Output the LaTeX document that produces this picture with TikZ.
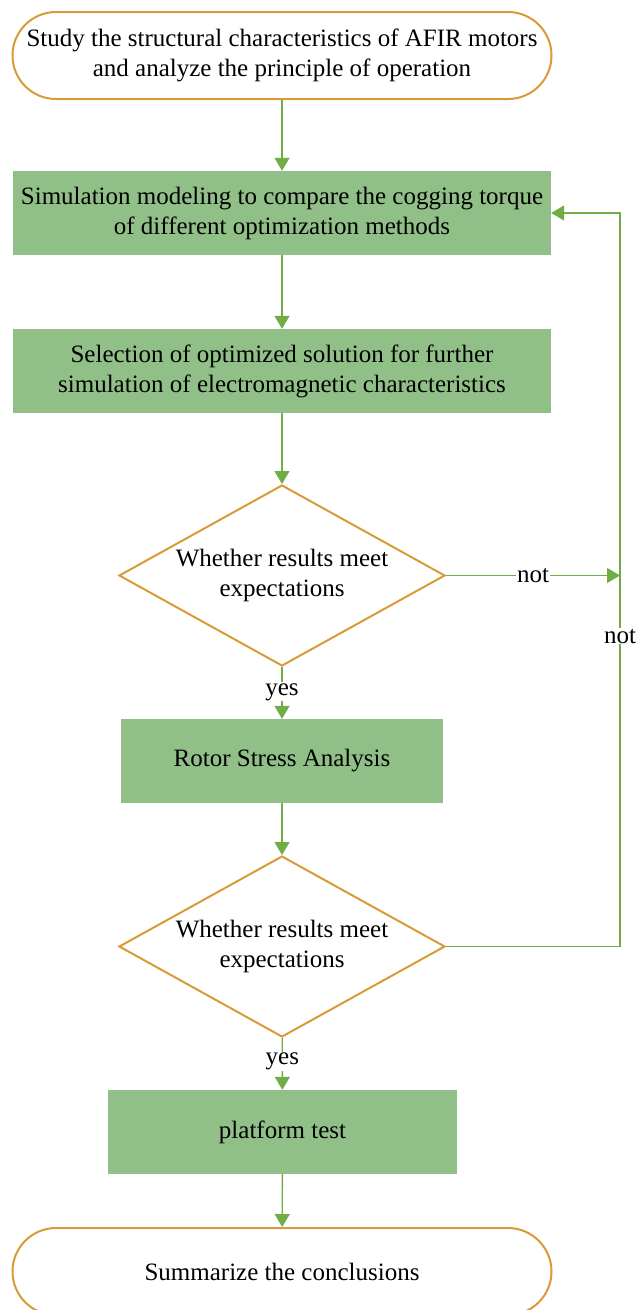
\documentclass[tikz,border=0pt]{standalone}
\usepackage{fontspec}
\setmainfont{Liberation Serif}
\usetikzlibrary{shapes.geometric,arrows.meta}
\definecolor{gold}{HTML}{D99A38}
\definecolor{boxgreen}{HTML}{90BF87}
\definecolor{linegreen}{HTML}{70AD47}
\begin{document}
\begin{tikzpicture}[x=1pt,y=-1pt,
  every node/.style={font=\fontsize{25}{30}\selectfont, align=center},
  terminal/.style={draw=gold, line width=2pt, fill=white, rounded corners=43.5pt,
    minimum width=539pt, minimum height=87pt, inner sep=0pt},
  procbox/.style={fill=boxgreen, draw=none, minimum height=84pt, inner sep=0pt},
  decision/.style={diamond, draw=gold, line width=2pt, fill=white, aspect=1.8,
    minimum width=326pt, minimum height=181pt, inner sep=0pt},
  flow/.style={draw=linegreen, line width=1.4pt, -{Triangle[length=13pt,width=15pt]}},
  lab/.style={fill=white, inner sep=1pt}
]
\useasboundingbox (0,0) rectangle (639,1310);
\clip (0,0) rectangle (639,1310);

\node[terminal] (start) at (282,55.5) {Study the structural characteristics of AFIR motors\\and analyze the principle of operation};
\node[procbox, minimum width=538pt] (sim) at (282,213) {Simulation modeling to compare the cogging torque\\of different optimization methods};
\node[procbox, minimum width=538pt] (sel) at (282,371) {Selection of optimized solution for further\\simulation of electromagnetic characteristics};
\node[decision] (d1) at (282,575.5) {Whether results meet\\expectations};
\node[procbox, minimum width=322pt] (rotor) at (282,761) {Rotor Stress Analysis};
\node[decision] (d2) at (282,946.5) {Whether results meet\\expectations};
\node[procbox, minimum width=349pt] (plat) at (282.5,1132) {platform test};
\node[terminal] (end) at (282,1271.5) {Summarize the conclusions};

\coordinate (c1) at (620,575.5);
\coordinate (c2) at (620,946.5);
\coordinate (c3) at (620,213);

\draw[flow] (start) -- (sim);
\draw[flow] (sim) -- (sel);
\draw[flow] (sel) -- (d1);
\draw[flow] (d1) -- node[lab, pos=0.48] {yes} (rotor);
\draw[flow] (rotor) -- (d2);
\draw[flow] (d2) -- node[lab, pos=0.46] {yes} (plat);
\draw[flow] (plat) -- (end);
\draw[flow] (d1.east) -- node[lab, pos=0.5] {not} (c1);
\draw[flow] (d2.east) -- (c2) -- node[lab, pos=0.423] {not} (c3) -- (sim.east);
\end{tikzpicture}
\end{document}
